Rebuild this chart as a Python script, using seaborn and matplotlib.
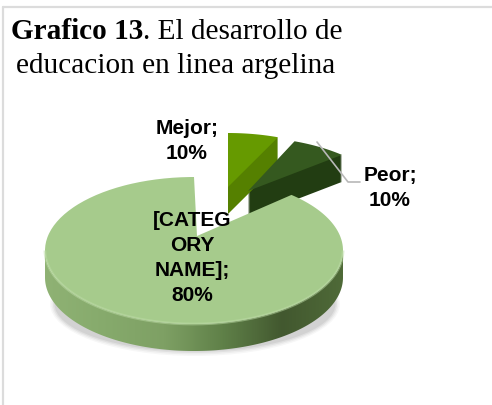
import matplotlib
matplotlib.use('Agg')
import matplotlib.pyplot as plt
import numpy as np
import seaborn as sns
from matplotlib.patches import Ellipse, Polygon
from matplotlib.path import Path
from matplotlib.transforms import Affine2D, Transform
from matplotlib.colors import LinearSegmentedColormap

categories = ['[CATEG\nORY\nNAME]', 'Peor', 'Mejor']
values = [80, 10, 10]

title_bold = 'Grafico 13'
title_rest = '. El desarrollo de'
title_line2 = 'educacion en linea argelina'

top_colors = ['#a6cb8c', '#35591f', '#669a00']
wall_colors = ['#7d9e64', '#223d12', '#558000']

RX, RY = 149, 73.5
DEPTH = 27

sns.set_theme(style='white')
plt.rcParams['font.family'] = ['Liberation Sans', 'DejaVu Sans']


class PieView(Transform):
    """Carries a flat unit pie onto a tilted ellipse, with the far side foreshortened."""
    input_dims = 2
    output_dims = 2

    def __init__(self, center, apex):
        super().__init__()
        self.center = np.array(center, dtype=float)
        self.apex = np.array(apex, dtype=float)

    def transform_non_affine(self, xy):
        xy = np.asarray(xy, dtype=float)
        r = np.hypot(xy[:, 0], xy[:, 1])
        t = np.arctan2(xy[:, 1], xy[:, 0])
        u = (np.pi/2 - t) % (2*np.pi)
        u2 = u - np.deg2rad(53)*np.sin(u/2)
        t2 = np.pi/2 - u2
        rim = self.center + np.column_stack([RX*np.cos(t2), -RY*np.sin(t2)])
        return (r[:, None]*rim + (1-r[:, None])*self.apex)

    def transform_path_non_affine(self, path):
        # aplanar las curvas antes de deformar
        big = path.transformed(Affine2D().scale(400))
        poly = big.to_polygons(closed_only=False)[0]/400
        return Path(self.transform_non_affine(poly))


fig = plt.figure(figsize=(4.92, 4.06), dpi=100)
ax = fig.add_axes([0, 0, 1, 1])

# sombra bajo el pastel
for grow, alpha in zip([10, 7, 4, 1], [0.03, 0.04, 0.05, 0.06]):
    ax.add_patch(Ellipse((195, 305), 2*140+grow, 2*47+grow, fc='black', ec='none',
                         alpha=alpha, zorder=1))

# (centro, vertice) de cada porcion en pixeles de la figura
places = [((194, 251.5), (197, 237)), ((244.5, 211.5), (248, 192)), ((228, 207.5), (228, 188))]

# primero las paredes de las porciones separadas
for idx in [1, 2]:
    for d in range(DEPTH, 0, -1):
        wedges, _ = ax.pie(values, startangle=90, counterclock=True)
        for i, w in enumerate(wedges):
            if i != idx:
                w.set_visible(False)
                continue
            c, a = places[i]
            view = PieView((c[0], c[1]+d), (a[0], a[1]+d))
            w.set_transform(view + ax.transData)
            w.set(facecolor=wall_colors[i], edgecolor='none', zorder=2, clip_on=False)

wedges, _ = ax.pie(values, startangle=90, counterclock=True)
for i, w in enumerate(wedges):
    c, a = places[i]
    w.set_transform(PieView(c, a) + ax.transData)
    w.set(facecolor=top_colors[i], edgecolor='none', zorder=3 if i else 5, clip_on=False)

# pared de la porcion grande, con degradado de izquierda a derecha
cx, cy = places[0][0]
tt = np.linspace(np.pi, 2*np.pi, 200)
low = np.column_stack([cx+RX*np.cos(tt), cy-RY*np.sin(tt)])
high = low[::-1] + [0, DEPTH]
band = Polygon(np.vstack([low, high]), transform=ax.transData, fc='none', ec='none')
ax.add_patch(band)
wall_cmap = LinearSegmentedColormap.from_list(
    'wall', sns.blend_palette(['#8fb274', '#86aa6c', '#7ea064', '#5f8048', '#42582f', '#4f6a38'], 64))
img = ax.imshow(np.linspace(0, 1, 256)[None, :], cmap=wall_cmap, aspect='auto',
                extent=(cx-RX, cx+RX, cy+RY+DEPTH, cy), zorder=4)
img.set_clip_path(band)

# brillo en el borde de la cara superior
ax.add_patch(Polygon(low, closed=False, fc='none', ec='#bcdca5', lw=2, alpha=0.5, zorder=5))

ax.set_aspect('auto')
ax.set_xlim(0, 492)
ax.set_ylim(406, 0)
ax.axis('off')

# linea guia de Peor
ax.plot([317, 348, 360], [143, 183, 183], color='#b8b8b8', lw=1.2, zorder=6)

# marco gris, solo arriba y a la izquierda
ax.plot([2.5, 492], [8, 8], color='#dcdcdc', lw=1.6, zorder=1, clip_on=False)
ax.plot([2.5, 2.5], [8, 406], color='#dcdcdc', lw=1.6, zorder=1, clip_on=False)

label_kw = dict(fontsize=15, fontweight='bold', color='black', ha='center', va='center',
                linespacing=1.38, zorder=7)
ax.text(187, 141, f'{categories[2]};\n{values[2]}%', **label_kw)
ax.text(390, 188, f'{categories[1]};\n{values[1]}%', **label_kw)
ax.text(192, 258, f'{categories[0]};\n{values[0]}%', **label_kw)

serif = dict(family='Liberation Serif', fontsize=21.1, color='black', va='baseline', zorder=7)
t1 = ax.text(11, 39, title_bold, fontweight='bold', **serif)
fig.canvas.draw()
end_x = t1.get_window_extent().x1
ax.text(end_x, 39, title_rest, **serif)
ax.text(16, 73, title_line2, **serif)

fig.savefig('out.png', dpi=100)
